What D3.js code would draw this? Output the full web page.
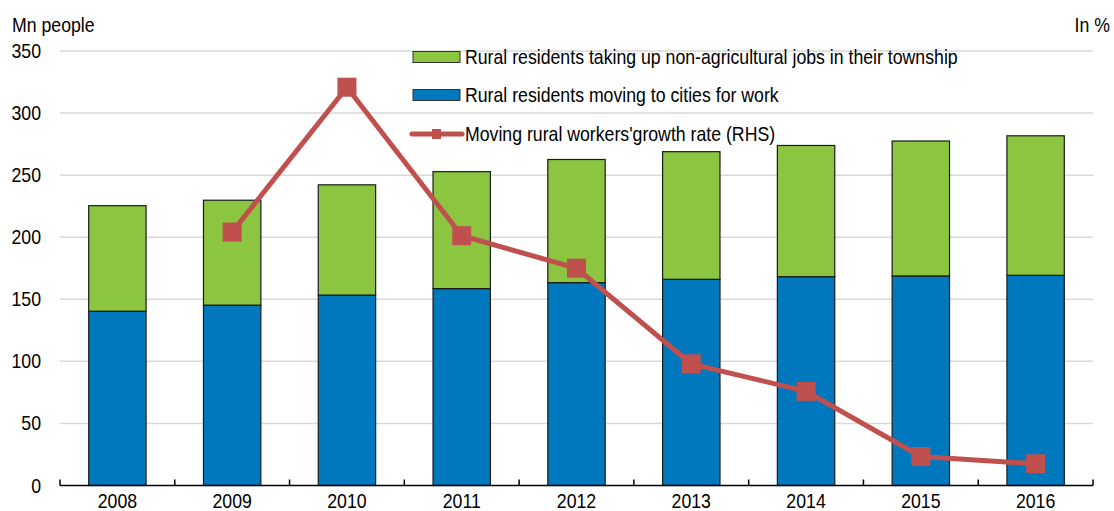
<!DOCTYPE html>
<html>
<head>
<meta charset="utf-8">
<script src="https://cdn.jsdelivr.net/npm/d3@7/dist/d3.min.js"></script>
<style>
  html, body { margin: 0; padding: 0; background: #fff; }
  svg text { font-family: "Liberation Sans", Arial, sans-serif; fill: #000; }
</style>
</head>
<body>
<svg id="chart" width="1114" height="511"></svg>
<script>
// Rural migrant workers in China, 2008-2016
const years = ["2008", "2009", "2010", "2011", "2012", "2013", "2014", "2015", "2016"];
// Mn people (left axis)
const movingToCities = [140.4, 145.3, 153.4, 158.6, 163.4, 166.1, 168.2, 168.8, 169.3];
const totalRuralWorkers = [225.4, 229.8, 242.2, 252.8, 262.6, 268.9, 273.9, 277.5, 281.7];
const localNonAgri = totalRuralWorkers.map((t, i) => +(t - movingToCities[i]).toFixed(1));
// growth rate of moving rural workers, % (right axis)
const growthYears = ["2009", "2010", "2011", "2012", "2013", "2014", "2015", "2016"];
const growthRate = [3.5, 5.5, 3.45, 3.0, 1.68, 1.3, 0.4, 0.3];
const leftTicks = [0, 50, 100, 150, 200, 250, 300, 350];

const legendLabels = [
  "Rural residents taking up non-agricultural jobs in their township",
  "Rural residents moving to cities for work",
  "Moving rural workers'growth rate (RHS)"
];

const colors = { green: "#8cc640", blue: "#0078be", red: "#c0504d", grid: "#d9d9d9" };
const FONT = 20, SQUEEZE = 0.885;

const svg = d3.select("#chart");
const m = { left: 60, right: 1093, top: 51, bottom: 485.5 };

// narrow text: positioned by translate, horizontally condensed around its anchor
function narrowText(sel, xf, yf) {
  return sel.attr("x", 0).attr("y", 0)
    .attr("font-size", FONT)
    .attr("transform", (d, i) => `translate(${typeof xf === "function" ? xf(d, i) : xf},${typeof yf === "function" ? yf(d, i) : yf}) scale(${SQUEEZE},1)`);
}

const x = d3.scaleBand().domain(years).range([m.left, m.right]).paddingInner(0.5).paddingOuter(0.25);
const yL = d3.scaleLinear().domain([0, 350]).range([m.bottom, m.top]);
const yR = d3.scaleLinear().domain([0, 6]).range([m.bottom, m.top]);

// gridlines
svg.append("g").selectAll("line").data(leftTicks.filter(d => d > 0)).join("line")
  .attr("x1", m.left).attr("x2", m.right)
  .attr("y1", d => yL(d)).attr("y2", d => yL(d))
  .attr("stroke", colors.grid).attr("stroke-width", 1.5);

// left axis labels
svg.append("g").selectAll("text").data(leftTicks).join("text")
  .call(narrowText, 41, d => yL(d) + 7)
  .attr("text-anchor", "end").text(d => d);

// stacked bars
const stack = d3.stack().keys(["cities", "local"])(
  years.map((yr, i) => ({ year: yr, cities: movingToCities[i], local: localNonAgri[i] }))
);
const fills = [colors.blue, colors.green];
svg.append("g").selectAll("g").data(stack).join("g")
  .attr("fill", (d, i) => fills[i])
  .selectAll("rect").data(d => d).join("rect")
  .attr("x", d => x(d.data.year))
  .attr("width", x.bandwidth())
  .attr("y", d => yL(d[1]))
  .attr("height", d => yL(d[0]) - yL(d[1]))
  .attr("stroke", "#1a1a1a").attr("stroke-width", 1.2);

// bottom axis with inward ticks at category boundaries
const step = x.step();
const boundaries = d3.range(years.length + 1).map(i => m.left + i * step);
const xAxisG = svg.append("g");
xAxisG.append("line").attr("x1", m.left).attr("x2", m.right)
  .attr("y1", m.bottom).attr("y2", m.bottom).attr("stroke", "#000").attr("stroke-width", 1.5);
xAxisG.selectAll("line.tick").data(boundaries).join("line").attr("class", "tick")
  .attr("x1", d => d).attr("x2", d => d)
  .attr("y1", m.bottom).attr("y2", m.bottom - 6)
  .attr("stroke", "#000").attr("stroke-width", 1.5);
xAxisG.selectAll("text").data(years).join("text")
  .call(narrowText, d => x(d) + x.bandwidth() / 2, 507.5)
  .attr("text-anchor", "middle").text(d => d);

// growth rate line (RHS)
const linePts = growthYears.map((yr, i) => ({ year: yr, v: growthRate[i] }));
const line = d3.line().x(d => x(d.year) + x.bandwidth() / 2).y(d => yR(d.v));
svg.append("path").datum(linePts).attr("d", line)
  .attr("fill", "none").attr("stroke", colors.red).attr("stroke-width", 5);
svg.append("g").selectAll("rect").data(linePts).join("rect")
  .attr("x", d => x(d.year) + x.bandwidth() / 2 - 9.5)
  .attr("y", d => yR(d.v) - 9.5)
  .attr("width", 19).attr("height", 19).attr("fill", colors.red);

// axis titles
svg.append("text").call(narrowText, 12, 32).text("Mn people");
svg.append("text").call(narrowText, 1110, 32).attr("text-anchor", "end").text("In %");

// legend
const lg = svg.append("g");
const rows = [57, 95, 134];
lg.append("rect").attr("x", 413).attr("y", rows[0] - 5.5).attr("width", 47).attr("height", 11)
  .attr("fill", colors.green).attr("stroke", "#333").attr("stroke-width", 1);
lg.append("rect").attr("x", 413).attr("y", rows[1] - 5.5).attr("width", 47).attr("height", 11)
  .attr("fill", colors.blue).attr("stroke", "#333").attr("stroke-width", 1);
lg.append("line").attr("x1", 412).attr("x2", 462).attr("y1", rows[2]).attr("y2", rows[2])
  .attr("stroke", colors.red).attr("stroke-width", 5).attr("stroke-linecap", "round");
lg.append("rect").attr("x", 432).attr("y", rows[2] - 5).attr("width", 9).attr("height", 10).attr("fill", colors.red);
lg.selectAll("text").data(legendLabels).join("text")
  .call(narrowText, 465, (d, i) => rows[i] + 7).text(d => d);
</script>
</body>
</html>
